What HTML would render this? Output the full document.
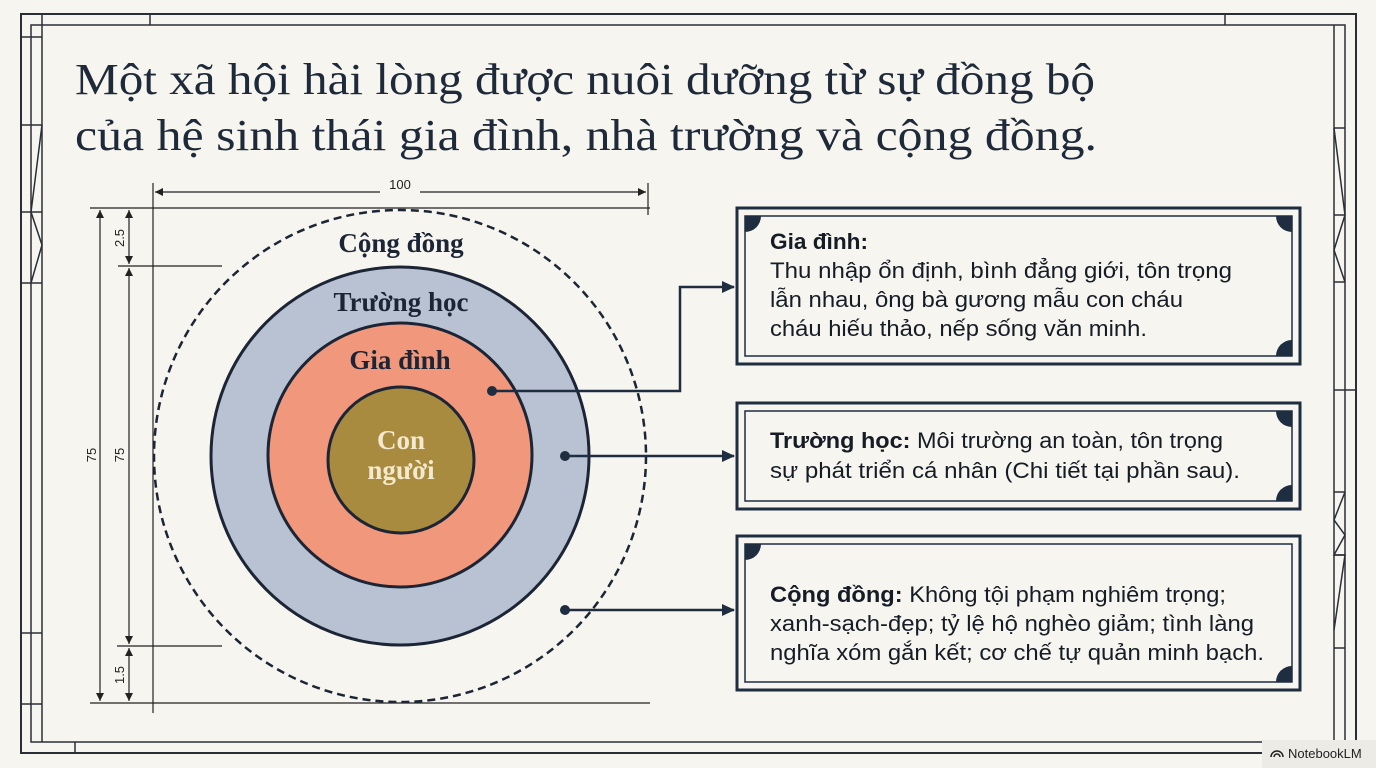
<!DOCTYPE html>
<html><head><meta charset="utf-8"><style>
body{margin:0;background:#f6f5ef;}
svg{display:block}
.t{font-family:"Liberation Serif",serif;font-size:44px;fill:#1e2a3a}
.c{font-family:"Liberation Serif",serif;font-weight:bold;font-size:27px;fill:#1b2535;text-anchor:middle}
.b{font-family:"Liberation Sans",sans-serif;font-size:22px;fill:#151c26}
.d{font-family:"Liberation Sans",sans-serif;font-size:13px;fill:#222}
</style></head><body>
<svg width="1376" height="768" viewBox="0 0 1376 768" xmlns="http://www.w3.org/2000/svg">
<defs><marker id="ar" markerWidth="13" markerHeight="12" refX="12" refY="6" orient="auto" markerUnits="userSpaceOnUse"><path d="M0,0 L13,6 L0,12 z" fill="#1e2d40"/></marker>
<marker id="sa" markerWidth="8" markerHeight="10" refX="8" refY="5" orient="auto-start-reverse" markerUnits="userSpaceOnUse"><path d="M0,1 L8,5 L0,9 z" fill="#222"/></marker></defs>
<rect width="1376" height="768" fill="#f6f5ef"/>
<g fill="none" stroke="#2a2f36" stroke-width="1.5">
<rect x="21" y="14" width="1335" height="739" stroke-width="2"/>
<rect x="31" y="25" width="1314" height="717"/>
<line x1="42" y1="14" x2="42" y2="742"/><line x1="1334" y1="25" x2="1334" y2="742"/>
<line x1="150" y1="14" x2="150" y2="25"/><line x1="1225" y1="14" x2="1225" y2="25"/><line x1="75" y1="742" x2="75" y2="753"/>
<line x1="21" y1="37" x2="42" y2="37"/><line x1="21" y1="125" x2="42" y2="125"/><line x1="21" y1="212" x2="42" y2="212"/><line x1="21" y1="283" x2="42" y2="283"/><line x1="21" y1="633" x2="42" y2="633"/><line x1="21" y1="704" x2="42" y2="704"/>
<polyline points="42,125 31,212 42,245 31,283"/>
<line x1="1334" y1="128" x2="1345" y2="128"/><line x1="1334" y1="215" x2="1345" y2="215"/><line x1="1334" y1="282" x2="1345" y2="282"/><line x1="1334" y1="390" x2="1356" y2="390"/><line x1="1334" y1="492" x2="1345" y2="492"/><line x1="1334" y1="555" x2="1345" y2="555"/><line x1="1334" y1="648" x2="1345" y2="648"/>
<polyline points="1334,128 1345,215 1334,250 1345,282"/>
<polyline points="1345,492 1334,520 1345,535 1334,555 1345,555 1334,630"/>
</g>
<text class="t" x="75" y="94" textLength="1020" lengthAdjust="spacingAndGlyphs">Một xã hội hài lòng được nuôi dưỡng từ sự đồng bộ</text>
<text class="t" x="75" y="150" textLength="1022" lengthAdjust="spacingAndGlyphs">của hệ sinh thái gia đình, nhà trường và cộng đồng.</text>
<g stroke="#222" stroke-width="1.2" fill="none">
<line x1="153" y1="183" x2="153" y2="713"/><line x1="648" y1="183" x2="648" y2="215"/>
<line x1="155" y1="192" x2="380" y2="192" marker-start="url(#sa)"/><line x1="420" y1="192" x2="646" y2="192" marker-end="url(#sa)"/>
<line x1="90" y1="208" x2="650" y2="208"/><line x1="90" y1="703" x2="650" y2="703"/>
<line x1="118" y1="266" x2="222" y2="266"/><line x1="117" y1="646" x2="222" y2="646"/>
<line x1="100" y1="210" x2="100" y2="701" marker-start="url(#sa)" marker-end="url(#sa)"/>
<line x1="129" y1="210" x2="129" y2="264" marker-start="url(#sa)" marker-end="url(#sa)"/>
<line x1="129" y1="268" x2="129" y2="644" marker-start="url(#sa)" marker-end="url(#sa)"/>
<line x1="129" y1="648" x2="129" y2="701" marker-start="url(#sa)" marker-end="url(#sa)"/>
</g>
<text class="d" x="400" y="189" text-anchor="middle">100</text>
<text class="d" transform="translate(96,455) rotate(-90)" text-anchor="middle">75</text>
<text class="d" transform="translate(124,455) rotate(-90)" text-anchor="middle">75</text>
<text class="d" transform="translate(124,238) rotate(-90)" text-anchor="middle">2.5</text>
<text class="d" transform="translate(124,675) rotate(-90)" text-anchor="middle">1.5</text>
<circle cx="400" cy="456" r="246" fill="#f6f5ef" stroke="#1b2535" stroke-width="2.5" stroke-dasharray="8,5"/>
<circle cx="400" cy="456" r="189" fill="#b8c2d2" stroke="#1b2535" stroke-width="3"/>
<circle cx="400" cy="455" r="132" fill="#f0977c" stroke="#1b2535" stroke-width="3"/>
<circle cx="401" cy="460" r="73" fill="#a98b3f" stroke="#1b2535" stroke-width="3"/>
<text class="c" x="401" y="252">Cộng đồng</text>
<text class="c" x="401" y="311">Trường học</text>
<text class="c" x="400" y="369">Gia đình</text>
<text class="c" x="401" y="449" style="fill:#f3e9cf">Con</text>
<text class="c" x="401" y="479" style="fill:#f3e9cf">người</text>
<g stroke="#1e2d40" stroke-width="2.5" fill="none">
<polyline points="492,391 680,391 680,287 734,287" marker-end="url(#ar)"/>
<line x1="565" y1="456" x2="734" y2="456" marker-end="url(#ar)"/>
<line x1="565" y1="610" x2="734" y2="610" marker-end="url(#ar)"/>
</g>
<g fill="#1e2d40"><circle cx="492" cy="391" r="5"/><circle cx="565" cy="456" r="5"/><circle cx="565" cy="610" r="5"/></g>
<g fill="none" stroke="#1e2d40">
<rect x="737" y="208" width="563" height="156" stroke-width="3"/><rect x="745" y="216" width="547" height="140" stroke-width="1.5"/>
<rect x="737" y="403" width="563" height="106" stroke-width="3"/><rect x="745" y="411" width="547" height="90" stroke-width="1.5"/>
<rect x="737" y="536" width="563" height="154" stroke-width="3"/><rect x="745" y="544" width="547" height="138" stroke-width="1.5"/>
</g>
<g fill="#1e2d40">
<path d="M745,216 h16 a16,16 0 0 1 -16,16 z"/><path d="M1292,216 h-16 a16,16 0 0 0 16,16 z"/><path d="M1292,356 h-16 a16,16 0 0 1 16,-16 z"/>
<path d="M1292,411 h-16 a16,16 0 0 0 16,16 z"/><path d="M1292,501 h-16 a16,16 0 0 1 16,-16 z"/>
<path d="M745,544 h16 a16,16 0 0 1 -16,16 z"/><path d="M1292,682 h-16 a16,16 0 0 1 16,-16 z"/>
</g>
<text class="b" x="770" y="249" font-weight="bold" textLength="98" lengthAdjust="spacingAndGlyphs">Gia đình:</text>
<text class="b" x="770" y="278" textLength="462" lengthAdjust="spacingAndGlyphs">Thu nhập ổn định, bình đẳng giới, tôn trọng</text>
<text class="b" x="770" y="307" textLength="413" lengthAdjust="spacingAndGlyphs">lẫn nhau, ông bà gương mẫu con cháu</text>
<text class="b" x="770" y="336" textLength="377" lengthAdjust="spacingAndGlyphs">cháu hiếu thảo, nếp sống văn minh.</text>
<text class="b" x="770" y="448" textLength="453" lengthAdjust="spacingAndGlyphs"><tspan font-weight="bold">Trường học:</tspan> Môi trường an toàn, tôn trọng</text>
<text class="b" x="770" y="478" textLength="470" lengthAdjust="spacingAndGlyphs">sự phát triển cá nhân (Chi tiết tại phần sau).</text>
<text class="b" x="770" y="602" textLength="456" lengthAdjust="spacingAndGlyphs"><tspan font-weight="bold">Cộng đồng:</tspan> Không tội phạm nghiêm trọng;</text>
<text class="b" x="770" y="631" textLength="484" lengthAdjust="spacingAndGlyphs">xanh-sạch-đẹp; tỷ lệ hộ nghèo giảm; tình làng</text>
<text class="b" x="770" y="660" textLength="494" lengthAdjust="spacingAndGlyphs">nghĩa xóm gắn kết; cơ chế tự quản minh bạch.</text>
<rect x="1262" y="740" width="114" height="28" fill="#ecebe6"/>
<text x="1288" y="758" style="font-family:'Liberation Sans',sans-serif;font-size:13px;fill:#222">NotebookLM</text>
<path d="M1271,757 a6,6 0 0 1 12,0 M1274,757 a3,3 0 0 1 6,0" stroke="#222" stroke-width="1.5" fill="none"/>
</svg>
</body></html>
